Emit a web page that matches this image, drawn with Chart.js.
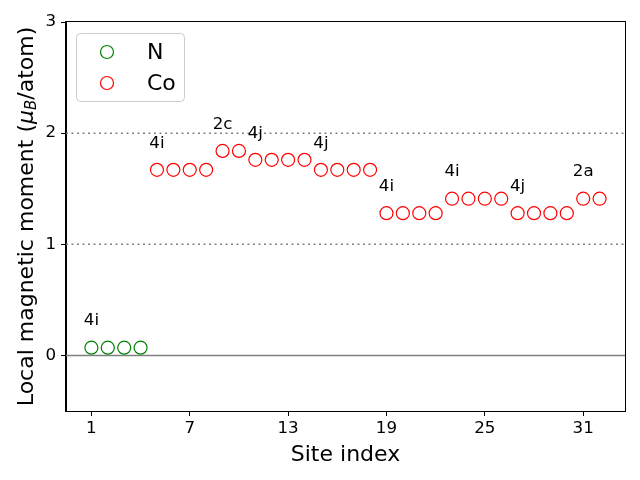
<!DOCTYPE html>
<html>
<head>
<meta charset="utf-8">
<script src="https://cdn.jsdelivr.net/npm/chart.js@4.4.0/dist/chart.umd.min.js"></script>
<style>
  html, body { margin: 0; padding: 0; background: #fff; }
  #wrap { width: 640px; height: 480px; }
</style>
</head>
<body>
<div id="wrap"><canvas id="momentChart" width="640" height="480"></canvas></div>
<script>
// data
const nSites = [1, 2, 3, 4];
const nMoments = [0.07, 0.07, 0.07, 0.07];
const coSites = [5, 6, 7, 8, 9, 10, 11, 12, 13, 14, 15, 16, 17, 18,
  19, 20, 21, 22, 23, 24, 25, 26, 27, 28, 29, 30, 31, 32];
const coMoments = [1.67, 1.67, 1.67, 1.67, 1.84, 1.84, 1.76, 1.76, 1.76, 1.76,
  1.67, 1.67, 1.67, 1.67, 1.28, 1.28, 1.28, 1.28, 1.41, 1.41, 1.41, 1.41,
  1.28, 1.28, 1.28, 1.28, 1.41, 1.41];
const xTicks = [1, 7, 13, 19, 25, 31];
const yTicks = [0, 1, 2, 3];
const groupSites = [1, 5, 9, 11, 15, 19, 23, 27, 31];
const groupLabels = ['4i', '4i', '2c', '4j', '4j', '4i', '4i', '4j', '2a'];
const dottedLevels = [1, 2];
const zeroLevel = 0;

const FONT = "'DejaVu Sans', sans-serif";

function momentAt(site) {
  let i = nSites.indexOf(site);
  if (i >= 0) return nMoments[i];
  i = coSites.indexOf(site);
  return coMoments[i];
}

const decorPlugin = {
  id: 'decor',
  beforeDatasetsDraw(chart) {
    const { ctx, chartArea: a, scales } = chart;
    ctx.save();
    ctx.strokeStyle = 'gray';
    ctx.lineWidth = 1.5;
    ctx.setLineDash([2, 3.5]);
    dottedLevels.forEach(v => {
      const y = scales.y.getPixelForValue(v);
      ctx.beginPath();
      ctx.moveTo(a.left, y);
      ctx.lineTo(a.right, y);
      ctx.stroke();
    });
    ctx.setLineDash([]);
    const y0 = scales.y.getPixelForValue(zeroLevel);
    ctx.beginPath();
    ctx.moveTo(a.left, y0);
    ctx.lineTo(a.right, y0);
    ctx.stroke();
    ctx.restore();
  },
  afterDatasetsDraw(chart) {
    const { ctx, chartArea: a, scales } = chart;
    ctx.save();
    // group labels
    ctx.font = '16.7px ' + FONT;
    ctx.fillStyle = '#000';
    ctx.textAlign = 'center';
    ctx.textBaseline = 'alphabetic';
    groupSites.forEach((s, i) => {
      ctx.fillText(groupLabels[i], scales.x.getPixelForValue(s),
        scales.y.getPixelForValue(momentAt(s) + 0.2));
    });

    // frame
    ctx.strokeStyle = '#000';
    ctx.lineWidth = 1;
    ctx.strokeRect(Math.round(a.left) - 0.5, Math.round(a.top) - 0.5,
      Math.round(a.right - a.left) + 1, Math.round(a.bottom - a.top) + 1);

    // legend
    ctx.beginPath();
    ctx.roundRect(76.5, 33.5, 108, 68, 4);
    ctx.fillStyle = 'rgba(255,255,255,0.8)';
    ctx.fill();
    ctx.strokeStyle = '#cccccc';
    ctx.stroke();
    chart.data.datasets.forEach((ds, i) => {
      const y = 52 + i * 31;
      ctx.beginPath();
      ctx.arc(107, y, 6.5, 0, Math.PI * 2);
      ctx.strokeStyle = ds.borderColor;
      ctx.lineWidth = 1.2;
      ctx.stroke();
      ctx.fillStyle = '#000';
      ctx.font = '22px ' + FONT;
      ctx.textAlign = 'left';
      ctx.textBaseline = 'middle';
      ctx.fillText(ds.label, 147, y + 1);
    });

    // y axis title with subscript
    ctx.translate(27, (a.top + a.bottom) / 2);
    ctx.rotate(-Math.PI / 2);
    const parts = [
      { t: 'Local magnetic moment (', f: '22px ' + FONT, dy: 0 },
      { t: '\u03bc', f: 'italic 22px ' + FONT, dy: 0 },
      { t: 'B', f: 'italic 15px ' + FONT, dy: 5 },
      { t: '/atom)', f: '22px ' + FONT, dy: 0 }
    ];
    let total = 0;
    parts.forEach(p => { ctx.font = p.f; p.w = ctx.measureText(p.t).width; total += p.w; });
    let x = -total / 2;
    ctx.textAlign = 'left';
    ctx.textBaseline = 'middle';
    ctx.fillStyle = '#000';
    parts.forEach(p => {
      ctx.font = p.f;
      ctx.fillText(p.t, x, p.dy);
      x += p.w;
    });
    ctx.restore();
  }
};

const ctx = document.getElementById('momentChart').getContext('2d');
const momentChart = new Chart(ctx, {
  type: 'scatter',
  data: {
    datasets: [
      {
        label: 'N',
        data: nSites.map((s, i) => ({ x: s, y: nMoments[i] })),
        borderColor: 'green',
        backgroundColor: 'rgba(0,0,0,0)',
        pointRadius: 6.5,
        pointBorderWidth: 1.2
      },
      {
        label: 'Co',
        data: coSites.map((s, i) => ({ x: s, y: coMoments[i] })),
        borderColor: 'red',
        backgroundColor: 'rgba(0,0,0,0)',
        pointRadius: 6.5,
        pointBorderWidth: 1.2
      }
    ]
  },
  options: {
    responsive: false,
    animation: false,
    devicePixelRatio: 1,
    layout: { padding: { top: 22, right: 15, left: 0, bottom: 0 } },
    plugins: {
      legend: { display: false },
      tooltip: { enabled: false }
    },
    scales: {
      x: {
        type: 'linear',
        min: -0.55,
        max: 33.55,
        afterBuildTicks: (scale) => { scale.ticks = xTicks.map(v => ({ value: v })); },
        afterFit: (scale) => { scale.height = 69; },
        ticks: { color: '#000', font: { family: FONT, size: 16.7 }, padding: 3, maxRotation: 0 },
        grid: { display: true, drawOnChartArea: false, drawTicks: true, tickLength: 5, color: '#000' },
        border: { display: true, color: '#000', width: 1 },
        title: {
          display: true,
          text: 'Site index',
          color: '#000',
          font: { family: FONT, size: 22 },
          padding: { top: 0, bottom: 12 }
        }
      },
      y: {
        min: -0.5,
        max: 3,
        afterBuildTicks: (scale) => { scale.ticks = yTicks.map(v => ({ value: v })); },
        afterFit: (scale) => { scale.width = 66; },
        ticks: { color: '#000', font: { family: FONT, size: 16.7 }, padding: 5 },
        grid: { display: true, drawOnChartArea: false, drawTicks: true, tickLength: 5, color: '#000' },
        border: { display: true, color: '#000', width: 1 }
      }
    }
  },
  plugins: [decorPlugin]
});
</script>
</body>
</html>
